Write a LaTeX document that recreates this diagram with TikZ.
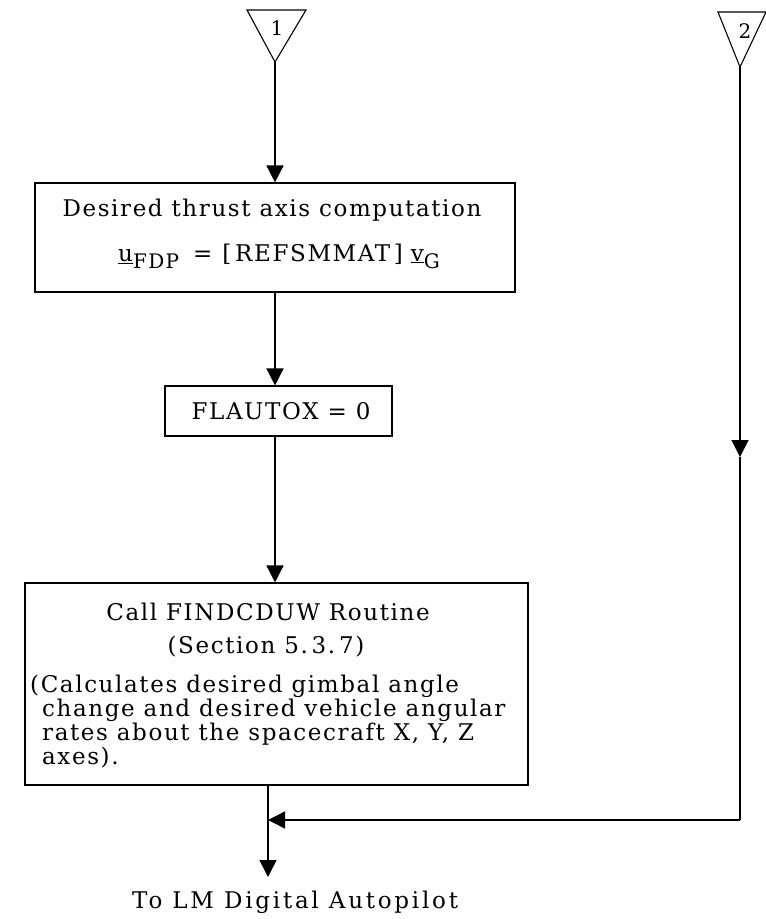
\documentclass[tikz,border=0pt]{standalone}
\usepackage{fontspec}
\setmainfont{DejaVu Serif}[LetterSpace=7]
\usetikzlibrary{arrows.meta}
\begin{document}
\begin{tikzpicture}[x=1pt,y=-1pt,
  box/.style={draw,line width=1.1pt,inner sep=0pt},
  conn/.style={line width=1.4pt},
  arr/.style={conn,-{Triangle[width=17pt,length=17pt]}},
  lbl/.style={font=\fontsize{23}{24}\selectfont,inner sep=0pt}]
\useasboundingbox (0,0) rectangle (766,919);
% connector triangles
\coordinate (a1) at (275,62);
\draw[box] (247,10) -- (306,10) -- (a1) -- cycle;
\node[lbl,anchor=base,font=\fontsize{20}{20}\selectfont] (n1) at (277,35) {1};
\coordinate (a2) at (740,67);
\draw[box] (718,12) -- (766,12) -- (a2) -- cycle;
\node[lbl,anchor=base,font=\fontsize{20}{20}\selectfont] (n2) at (745,38) {2};
% boxes
\node[box,minimum width=480pt,minimum height=109pt] (b1) at (275,237.5) {};
\node[lbl,anchor=base] (t1) at (272,216) {Desired thrust axis computation};
\node[lbl,anchor=base west] (t2) at (118,261) {\underline{u}\raisebox{-7pt}{\fontsize{20}{20}\selectfont FDP}\hspace{14pt}=\hspace{10pt}[\,REFSMMAT\,]\hspace{8pt}\underline{v}\raisebox{-7pt}{\fontsize{20}{20}\selectfont G}};
\node[box,minimum width=227pt,minimum height=50pt] (b2) at (278.5,411) {};
\node[lbl,anchor=base] (t3) at (281,419) {FLAUTOX = 0};
\node[box,minimum width=503pt,minimum height=202pt] (b3) at (276.5,684) {};
\node[lbl,anchor=base] (t4) at (268,620) {Call FINDCDUW Routine};
\node[lbl,anchor=base] (t5) at (266,653) {(Section 5.\,3.\,7)};
\node[lbl,anchor=base west] (p1) at (30,692) {(Calculates desired gimbal angle};
\node[lbl,anchor=base west] (p2) at (42,716) {change and desired vehicle angular};
\node[lbl,anchor=base west] (p3) at (42,740) {rates about the spacecraft X, Y, Z};
\node[lbl,anchor=base west] (p4) at (42,764) {axes).};
% connectors
\draw[arr] (a1) -- (a1 |- b1.north);
\draw[arr] (b1.south -| a1) -- (b2.north -| a1);
\draw[arr] (b2.south -| a1) -- (b3.north -| a1);
\coordinate (m2) at (740,457);
\coordinate (c2) at (740,820);
\coordinate (j) at (268,820);
\coordinate (e) at (268,877);
\draw[arr] (a2) -- (m2);
\draw[conn] (m2) -- (c2);
\draw[arr] (c2) -- (j);
\draw[arr] (b3.south -| j) -- (e);
\node[lbl,anchor=base west] (to) at (132,908) {\addfontfeature{LetterSpace=12}To LM Digital Autopilot};
\end{tikzpicture}
\end{document}
